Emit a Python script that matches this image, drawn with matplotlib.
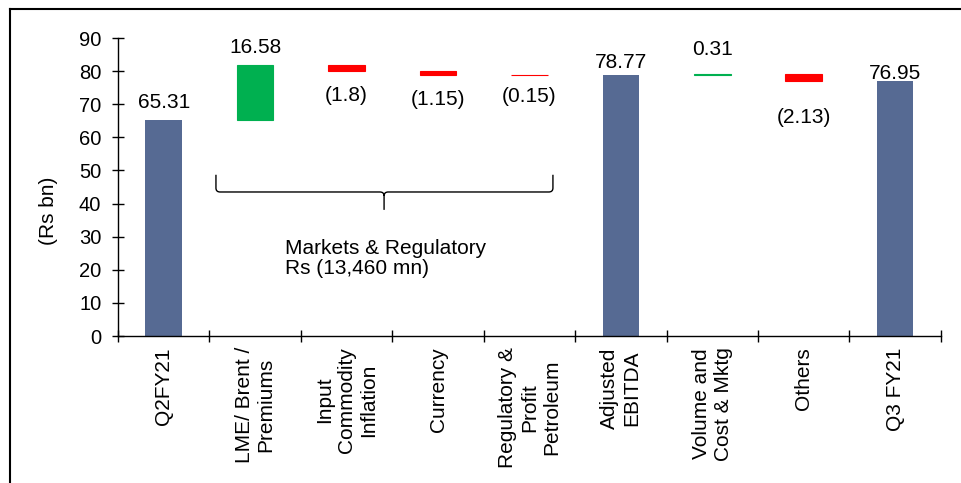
import matplotlib
matplotlib.use("Agg")
import matplotlib.pyplot as plt
from matplotlib.lines import Line2D
from matplotlib.path import Path
from matplotlib.patches import PathPatch

plt.rcParams["font.family"] = ["Liberation Sans", "DejaVu Sans"]

# datos del puente de EBITDA (Rs bn)
CATEGORIAS = [
    "Q2FY21",
    "LME/ Brent /\nPremiums",
    "Input\nCommodity\nInflation",
    "Currency",
    "Regulatory &\nProfit\nPetroleum",
    "Adjusted\nEBITDA",
    "Volume and\nCost & Mktg",
    "Others",
    "Q3 FY21",
]
VALORES = [65.31, 16.58, -1.8, -1.15, -0.15, 78.77, 0.31, -2.13, 76.95]
ES_TOTAL = [True, False, False, False, False, True, False, False, True]
NOTA_GRUPO = "Markets & Regulatory\nRs (13,460 mn)"

# estilo
AZUL = "#566A93"
VERDE = "#00B050"
ROJO = "#FF0000"
FS = 15
# desplazamiento vertical de cada etiqueta (px) respecto al borde de la barra
OFFSETS_ETIQ = [17, 17, -25, -25, -21, 13, 25, -36, 8]


def etiqueta(v, total):
    if total or v >= 0:
        return f"{v:g}"
    return f"({abs(v):g})"


def main():
    fig = plt.figure(figsize=(9.62, 4.83), dpi=100)
    ax = fig.add_axes([0.1227, 0.3043, 0.978 - 0.1227, 0.9213 - 0.3043])

    # calcular bases del waterfall
    bases, alturas, colores = [], [], []
    acum = 0.0
    for v, tot in zip(VALORES, ES_TOTAL):
        if tot:
            bases.append(0.0)
            alturas.append(v)
            colores.append(AZUL)
            acum = v
        else:
            if v >= 0:
                bases.append(acum)
                colores.append(VERDE)
            else:
                bases.append(acum + v)
                colores.append(ROJO)
            alturas.append(abs(v))
            acum += v

    x = list(range(len(CATEGORIAS)))
    for i in x:
        lw = 0 if ES_TOTAL[i] else 0.8
        ax.bar(i, alturas[i], bottom=bases[i], width=0.4, color=colores[i],
               edgecolor=colores[i], linewidth=lw)
        v = VALORES[i]
        if ES_TOTAL[i] or v >= 0:
            y_ref = bases[i] + alturas[i]
        else:
            y_ref = bases[i]
        ax.annotate(etiqueta(v, ES_TOTAL[i]), (i, y_ref),
                    xytext=(0, OFFSETS_ETIQ[i]), textcoords="offset pixels",
                    ha="center", va="center", fontsize=FS)

    # llave agrupando los efectos de mercado
    x0, x1, xc = 0.571, 4.257, 2.41
    ytop, ymid, ytip = 48.7, 43.5, 38.1
    dx, dy = 0.045, 1.2
    verts = [
        (x0, ytop), (x0, ymid + dy), (x0, ymid), (x0 + dx, ymid),
        (xc - dx, ymid), (xc, ymid), (xc, ymid - dy), (xc, ytip),
        (x1, ytop), (x1, ymid + dy), (x1, ymid), (x1 - dx, ymid),
        (xc + dx, ymid), (xc, ymid), (xc, ymid - dy),
    ]
    codes = [
        Path.MOVETO, Path.LINETO, Path.CURVE3, Path.CURVE3,
        Path.LINETO, Path.CURVE3, Path.CURVE3, Path.LINETO,
        Path.MOVETO, Path.LINETO, Path.CURVE3, Path.CURVE3,
        Path.LINETO, Path.CURVE3, Path.CURVE3,
    ]
    ax.add_patch(PathPatch(Path(verts, codes), fill=False, lw=1.0,
                           edgecolor="black", capstyle="butt"))
    ax.text(1.325, 23.3, NOTA_GRUPO, ha="left", va="center", fontsize=FS,
            linespacing=1.05)

    # ejes
    ax.set_xlim(-0.5, len(CATEGORIAS) - 0.5)
    ax.set_ylim(0, 90)
    ax.set_yticks(range(0, 91, 10))
    ax.set_xticks(x)
    ax.set_xticklabels(CATEGORIAS, rotation=90, fontsize=FS)
    for lab in ax.get_xticklabels():
        lab.set_multialignment("center")
    ax.set_xticks([i - 0.5 for i in range(len(CATEGORIAS) + 1)], minor=True)
    ax.tick_params(axis="x", which="major", length=0, pad=8)
    ax.tick_params(axis="x", which="minor", direction="inout", length=8,
                   width=1, color="black")
    ax.tick_params(axis="y", direction="inout", length=8, width=1,
                   labelsize=14.5, pad=8)
    for s in ["top", "right"]:
        ax.spines[s].set_visible(False)
    for s in ["left", "bottom"]:
        ax.spines[s].set_linewidth(1.0)
    ax.set_ylabel("(Rs bn)", fontsize=FS)
    ax.yaxis.set_label_coords(-0.073, 0.42)

    # marco recortado de la figura
    fig.add_artist(Line2D([10 / 962, 1.0], [1 - 9 / 483] * 2, color="black",
                          lw=1.5, transform=fig.transFigure))
    fig.add_artist(Line2D([10 / 962] * 2, [0.0, 1 - 9 / 483], color="black",
                          lw=1.5, transform=fig.transFigure))

    fig.savefig("out.png", dpi=100)
    plt.close(fig)


if __name__ == "__main__":
    main()
